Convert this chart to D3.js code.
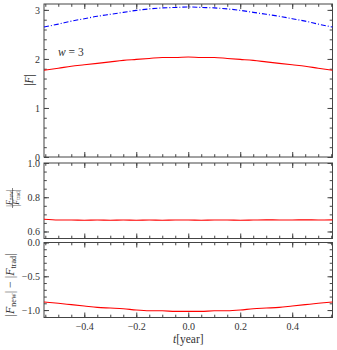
<!DOCTYPE html>
<html>
<head>
<meta charset="utf-8">
<script src="https://cdn.jsdelivr.net/npm/d3@7"></script>
<style>
  body { margin: 0; background: #fff; }
  svg, svg text { font-family: "Liberation Serif", "Times New Roman", "DejaVu Serif", serif; }
  .axis text { font-size: 10px; fill: #333; }
  .axis path, .axis line { stroke: #444; }
</style>
</head>
<body>
<div id="chart"></div>
<script>
// ******* DATA *******
const tYear = [-0.555, -0.5, -0.45, -0.4, -0.35, -0.3, -0.25, -0.2, -0.15, -0.1, -0.05, 0,
    0.05, 0.1, 0.15, 0.2, 0.25, 0.3, 0.35, 0.4, 0.45, 0.5, 0.555];
// |F_trad| (blue dash-dot)
const fTrad = [2.65, 2.71, 2.77, 2.82, 2.87, 2.91, 2.95, 2.99, 3.02, 3.04, 3.05, 3.06,
    3.05, 3.04, 3.02, 2.99, 2.95, 2.91, 2.87, 2.82, 2.77, 2.71, 2.65];
// |F_new| (red)
const fNew = [1.77, 1.81, 1.85, 1.88, 1.91, 1.94, 1.97, 1.99, 2.01, 2.03, 2.03, 2.04,
    2.03, 2.03, 2.01, 1.99, 1.97, 1.94, 1.91, 1.88, 1.85, 1.81, 1.77];
// |F_new| / |F_trad|
const fRatio = [0.671, 0.667, 0.667, 0.666, 0.667, 0.666, 0.667, 0.666, 0.667, 0.666, 0.667, 0.667,
    0.666, 0.667, 0.667, 0.666, 0.667, 0.668, 0.667, 0.667, 0.668, 0.667, 0.668];
// |F_new| - |F_trad|
const fDiff = [-0.88, -0.90, -0.92, -0.94, -0.96, -0.97, -0.98, -1.00, -1.01, -1.01, -1.02, -1.02,
    -1.02, -1.01, -1.01, -1.00, -0.98, -0.97, -0.96, -0.94, -0.92, -0.90, -0.88];

const xTicks = [-0.4, -0.2, 0.0, 0.2, 0.4];
const topTicks = [0, 1, 2, 3];
const midTicks = [0.6, 0.8, 1.0];
const botTicks = [-1.0, -0.5, 0.0];

// ******* LAYOUT *******
const W = 337, H = 350;
const left = 44, right = 332.5;

const svg = d3.select("#chart").append("svg")
    .attr("width", W)
    .attr("height", H);

const x = d3.scaleLinear().domain([-0.555, 0.555]).range([left, right]);

function drawPanel(top, bottom, yDomain, majors, minorStep, fmt, showX) {
    const y = d3.scaleLinear().domain(yDomain).range([bottom, top]);
    const g = svg.append("g");

    const xMinor = d3.range(-0.55, 0.5501, 0.05).map(v => +v.toFixed(2));
    const yMinor = d3.range(Math.ceil(yDomain[0] / minorStep) * minorStep, yDomain[1] + 1e-9, minorStep)
        .map(v => +v.toFixed(3));

    // minor ticks, all four sides, pointing inward
    g.append("g").attr("class", "axis").attr("transform", `translate(0,${bottom})`)
        .call(d3.axisBottom(x).tickValues(xMinor).tickSize(-2.8).tickFormat("").tickSizeOuter(0));
    g.append("g").attr("class", "axis").attr("transform", `translate(0,${top})`)
        .call(d3.axisTop(x).tickValues(xMinor).tickSize(-2.8).tickFormat("").tickSizeOuter(0));
    g.append("g").attr("class", "axis").attr("transform", `translate(${left},0)`)
        .call(d3.axisLeft(y).tickValues(yMinor).tickSize(-2.8).tickFormat("").tickSizeOuter(0));
    g.append("g").attr("class", "axis").attr("transform", `translate(${right},0)`)
        .call(d3.axisRight(y).tickValues(yMinor).tickSize(-2.8).tickFormat("").tickSizeOuter(0));

    // major ticks
    g.append("g").attr("class", "axis").attr("transform", `translate(0,${bottom})`)
        .call(d3.axisBottom(x).tickValues(xTicks).tickSize(-5).tickPadding(5).tickSizeOuter(0)
            .tickFormat(showX ? (d => d3.format(".1f")(d).replace("-", "\u2212")) : ""));
    g.append("g").attr("class", "axis").attr("transform", `translate(0,${top})`)
        .call(d3.axisTop(x).tickValues(xTicks).tickSize(-5).tickFormat("").tickSizeOuter(0));
    g.append("g").attr("class", "axis").attr("transform", `translate(${left},0)`)
        .call(d3.axisLeft(y).tickValues(majors).tickSize(-5).tickPadding(4).tickSizeOuter(0)
            .tickFormat(d => fmt(d).replace("-", "\u2212")));
    g.append("g").attr("class", "axis").attr("transform", `translate(${right},0)`)
        .call(d3.axisRight(y).tickValues(majors).tickSize(-5).tickFormat("").tickSizeOuter(0));

    g.selectAll(".axis").attr("font-family", null);
    g.selectAll(".axis .domain").remove();

    // frame
    g.append("rect")
        .attr("x", left).attr("y", top)
        .attr("width", right - left).attr("height", bottom - top)
        .attr("fill", "none").attr("stroke", "#444").attr("stroke-width", 1);

    return { g, y };
}

function drawLine(panel, values, color, dash) {
    const line = d3.line()
        .x((d, i) => x(tYear[i]))
        .y(d => panel.y(d))
        .curve(d3.curveMonotoneX);
    panel.g.append("path")
        .datum(values)
        .attr("fill", "none")
        .attr("stroke", color)
        .attr("stroke-width", 1.1)
        .attr("stroke-dasharray", dash)
        .attr("d", line);
}

// ******* TOP PANEL *******
const pTop = drawPanel(4, 157, [0, 3.12], topTicks, 0.2, d3.format("d"), false);
drawLine(pTop, fTrad, "#0000ff", "5,2,1,2");
drawLine(pTop, fNew, "#ff0000", null);

svg.append("text")
    .attr("x", 58).attr("y", 56)
    .attr("font-size", 11.5).attr("fill", "#333")
    .html('<tspan font-style="italic">w</tspan> = 3');

svg.append("text")
    .attr("transform", "translate(33,80) rotate(-90)")
    .attr("text-anchor", "middle")
    .attr("font-size", 11.5).attr("fill", "#333")
    .html('|<tspan font-style="italic">F</tspan>|');

// ******* MIDDLE PANEL *******
const pMid = drawPanel(163, 238.5, [0.559, 1.0], midTicks, 0.05, d3.format(".1f"), false);
drawLine(pMid, fRatio, "#ff0000", null);

const frac = svg.append("g")
    .attr("transform", "translate(12.5,198) rotate(-90)")
    .attr("fill", "#333")
    .attr("font-size", 8);
frac.append("text").attr("text-anchor", "middle").attr("y", -1)
    .html('|<tspan font-style="italic">F</tspan><tspan font-size="5.5" dy="1.3">new</tspan><tspan dy="-1.3">|</tspan>');
frac.append("line").attr("x1", -10).attr("x2", 10).attr("y1", 0).attr("y2", 0)
    .attr("stroke", "#333").attr("stroke-width", 0.6);
frac.append("text").attr("text-anchor", "middle").attr("y", 6.3)
    .html('|<tspan font-style="italic">F</tspan><tspan font-size="5.5" dy="1.3">trad</tspan><tspan dy="-1.3">|</tspan>');

// ******* BOTTOM PANEL *******
const pBot = drawPanel(242.5, 317.5, [-1.11, 0], botTicks, 0.1, d3.format(".1f"), true);
drawLine(pBot, fDiff, "#ff0000", null);

svg.append("text")
    .attr("transform", "translate(13.5,285) rotate(-90)")
    .attr("text-anchor", "middle")
    .attr("font-size", 12).attr("fill", "#333")
    .html('|<tspan font-style="italic">F</tspan><tspan font-size="8" dy="2">new</tspan><tspan dy="-2">| \u2212 |</tspan><tspan font-style="italic">F</tspan><tspan font-size="8" dy="2">trad</tspan><tspan dy="-2">|</tspan>');

svg.append("text")
    .attr("x", x(0)).attr("y", 343)
    .attr("text-anchor", "middle")
    .attr("font-size", 11.5).attr("fill", "#333")
    .html('<tspan font-style="italic">t</tspan>[year]');
</script>
</body>
</html>
